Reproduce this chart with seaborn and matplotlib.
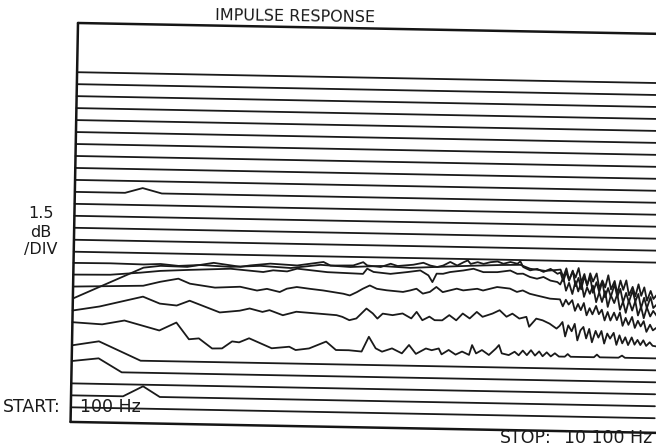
import matplotlib
matplotlib.use("Agg")
import matplotlib.pyplot as plt
from matplotlib.transforms import Affine2D
import numpy as np
import pandas as pd
import seaborn as sns

sns.set_style("white")
plt.rcParams['font.family'] = ['DejaVu Sans']

# ---------------- text ----------------
title = "IMPULSE RESPONSE"
scale_label = ["1.5", "dB", "/DIV"]
start_label, start_value = "START:", "100 Hz"
stop_label, stop_value = "STOP:", "10 100 Hz"

# ---------------- axis ----------------
f_start, f_stop = 100, 10100          # Hz
db_top, db_bottom = 0.0, -15.0        # 1.5 dB/div, 10 divisions
trace_spacing_db = 0.45               # waterfall offset between slices
first_trace_db = -1.85

# ---------------- data (response of each time slice, dB above its floor) ----------------
flat_slots = [0, 1, 2, 3, 4, 5, 6, 7, 8, 9, 11, 12, 13, 14, 15, 26, 28]

s10_freq = [100, 960, 1260, 1590, 10100]
s10_db = [0.00, 0.00, 0.19, 0.00, 0.00]

# low / mid band of the slices that carry signal
s18_freq = [100, 730, 1300, 1590, 1900, 2270, 2790, 3300, 3820, 4330, 4840, 5360, 5870, 6380,
            6900, 7410, 7750, 7920, 8180]
s18_db = [0.93, 0.94, 0.92, 0.95, 0.89, 0.94, 0.89, 0.95, 0.89, 1.03, 0.97, 1.03, 0.98, 1.04,
          1.10, 1.15, 1.17, 1.03, 0.96]

s19_freq = [100, 730, 1250, 1590, 2100, 2790, 3350, 3520, 3760, 3930, 4450, 5060, 5130, 5240,
            5530, 5820, 6040, 6180, 6250, 6320, 6430, 6550, 6780, 6950, 7120, 7360, 7580, 7700,
            7800, 7920, 8040, 8150, 8270, 8390]
s19_db = [0.94, 0.96, 1.06, 1.14, 1.20, 1.27, 1.17, 1.24, 1.21, 1.32, 1.21, 1.17, 1.37, 1.25,
          1.19, 1.27, 1.34, 1.16, 0.91, 1.23, 1.23, 1.30, 1.37, 1.44, 1.32, 1.33, 1.40, 1.28,
          1.29, 1.17, 1.11, 1.18, 1.05, 1.00]

s20_freq = [100, 1300, 1590, 1900, 2100, 2530, 2960, 3250, 3420, 3640, 3760, 3930, 4160, 4380,
            4730, 4840, 4960, 5060, 5180, 5300, 5470, 5750, 5870, 5980, 6090, 6210, 6320, 6430,
            6670, 6780, 7020, 7120, 7360, 7580, 7700, 7800, 7920, 8040, 8270]
s20_db = [0.94, 1.02, 1.18, 1.31, 1.13, 1.00, 1.05, 0.92, 0.99, 0.88, 1.01, 1.08, 1.02, 0.97,
          0.86, 0.80, 0.93, 1.06, 1.19, 1.07, 1.02, 0.97, 1.03, 1.10, 0.92, 0.99, 1.18, 0.99,
          1.13, 1.07, 1.14, 1.08, 1.22, 1.17, 1.05, 1.11, 0.99, 0.93, 0.82]

s21_freq = [100, 1300, 1590, 2050, 2500, 2960, 3130, 3470, 3930, 4380, 4500, 4890, 5060, 5130,
            5360, 5530, 5650, 5920, 6090, 6210, 6330, 6430, 6550, 6670, 6780, 6850, 6900, 7020,
            7120, 7240, 7360, 7460, 7580, 7700, 7750, 7800, 7920, 8040, 8150, 8270, 8390]
s21_db = [0.94, 2.15, 2.23, 2.21, 2.38, 2.25, 2.31, 2.39, 2.34, 2.49, 2.36, 2.38, 2.51, 2.39,
          2.34, 2.47, 2.39, 2.45, 2.53, 2.43, 2.38, 2.44, 2.58, 2.45, 2.58, 2.65, 2.52, 2.59,
          2.53, 2.60, 2.63, 2.55, 2.62, 2.56, 2.65, 2.44, 2.32, 2.38, 2.27, 2.39, 2.21]

s22_freq = [100, 560, 1300, 1590, 1880, 2100, 2620, 2960, 3130, 3350, 3470, 3700, 3930, 4620,
            4720, 4840, 4960, 5130, 5240, 5320, 5410, 5580, 5750, 5900, 5990, 6090, 6210, 6300,
            6430, 6550, 6670, 6780, 6900, 7020, 7120, 7290, 7410, 7530, 7630, 7750, 7870, 7920,
            8040, 8150, 8270, 8390]
s22_db = [0.94, 1.11, 1.51, 1.26, 1.20, 1.39, 0.97, 1.05, 1.14, 1.02, 1.09, 0.91, 1.05, 0.95,
          0.89, 0.77, 0.84, 1.22, 1.04, 0.85, 1.04, 0.99, 1.06, 0.88, 1.13, 0.82, 0.96, 0.83,
          0.83, 1.03, 0.84, 1.10, 0.92, 1.17, 0.99, 1.12, 1.25, 1.01, 1.13, 0.95, 1.02, 0.65,
          0.96, 0.90, 0.78, 0.60]

# high band (dense, ragged part at the right-hand end)
hf_freq = [8440, 8490, 8540, 8590, 8650, 8700, 8750, 8800, 8850, 8900, 8950, 9000, 9060, 9110,
           9160, 9210, 9260, 9310, 9370, 9420, 9470, 9520, 9570, 9620, 9680, 9730, 9780, 9830,
           9880, 9930, 9990, 10040, 10100]
s18_hf = [1.02, 0.74, 1.07, 0.64, 0.96, 0.73, 1.09, 0.56, 0.87, 0.43, 0.90, 0.59, 0.90, 0.34,
          0.64, 0.38, 0.84, 0.31, 0.63, 0.16, 0.65, 0.30, 0.66, 0.10, 0.42, 0.07, 0.52, 0.09,
          0.41, -0.09, 0.28, -0.02, 0.15]
s19_hf = [0.91, 1.17, 0.68, 0.98, 0.56, 1.04, 0.66, 1.02, 0.46, 0.82, 0.58, 0.89, 0.27, 0.64,
          0.28, 0.69, 0.10, 0.54, 0.25, 0.59, 0.00, 0.31, -0.11, 0.36, -0.02, 0.34, -0.20, 0.13,
          -0.30, 0.11, -0.23, -0.02, -0.20]
s20_hf = [0.80, 0.54, 0.79, 0.61, 0.78, 0.38, 0.64, 0.41, 0.68, 0.22, 0.49, 0.26, 0.58, 0.27,
          0.44, 0.04, 0.36, 0.04, 0.34, 0.06, 0.35, -0.15, 0.15, -0.11, 0.19, -0.22, 0.05, -0.16,
          0.04, -0.36, -0.09, -0.30, -0.20]
s21_hf = [2.26, 1.93, 2.29, 1.96, 2.34, 1.76, 2.07, 1.64, 2.13, 1.82, 2.12, 1.52, 1.92, 1.55,
          1.95, 1.36, 1.71, 1.38, 1.86, 1.38, 1.69, 1.18, 1.54, 1.19, 1.63, 1.22, 1.51, 0.97,
          1.37, 0.98, 1.40, 0.99, 1.13]
s22_hf = [0.70, 0.85, 0.31, 0.73, 0.51, 0.79, 0.17, 0.55, 0.68, 0.25, 0.61, 0.11, 0.54, 0.29,
          0.54, 0.07, 0.45, 0.26, 0.48, 0.03, 0.39, 0.09, 0.32, 0.03, 0.32, 0.05, 0.23, 0.04,
          0.22, 0.01, 0.15, 0.02, 0.00]

s23_freq = [100, 610, 990, 1590, 1880, 2100, 2270, 2500, 2670, 2840, 2960, 3130, 3520, 3820,
            3930, 4160, 4450, 4620, 4840, 5060, 5180, 5300, 5410, 5580, 5750, 5870, 5990, 6160,
            6260, 6380, 6430, 6550, 6670, 6780, 6900, 6950, 7020, 7120, 7240, 7360, 7410, 7460,
            7580, 7680, 7750, 7820, 7890, 7960, 8030, 8100, 8160, 8230, 8300, 8370, 8440, 8540,
            8590, 8640, 9040, 9090, 9140, 9460, 9520, 9570, 10100]
s23_db = [0.95, 0.89, 1.05, 0.70, 1.01, 0.39, 0.43, 0.06, 0.07, 0.34, 0.31, 0.47, 0.11, 0.18,
          0.06, 0.13, 0.40, 0.09, 0.09, 0.05, 0.61, 0.18, 0.06, 0.19, 0.01, 0.33, 0.00, 0.21,
          0.15, 0.22, 0.00, 0.17, 0.00, 0.12, 0.00, 0.37, 0.06, 0.19, 0.01, 0.26, 0.39, 0.08,
          0.02, 0.15, 0.02, 0.20, 0.03, 0.22, 0.02, 0.18, 0.00, 0.15, 0.00, 0.12, 0.00, 0.00,
          0.10, 0.00, 0.00, 0.10, 0.00, 0.00, 0.08, 0.00, 0.00]

s24_freq = [100, 560, 1280, 10100]
s24_db = [0.53, 0.70, 0.00, 0.00]

s25_freq = [100, 560, 960, 10100]
s25_db = [0.39, 0.51, 0.00, 0.00]

s27_freq = [100, 990, 1330, 1620, 10100]
s27_db = [0.00, 0.00, 0.39, 0.00, 0.00]

content = [(10, s10_freq, s10_db),
           (18, s18_freq + hf_freq, s18_db + s18_hf),
           (19, s19_freq + hf_freq, s19_db + s19_hf),
           (20, s20_freq + hf_freq, s20_db + s20_hf),
           (21, s21_freq + hf_freq, s21_db + s21_hf),
           (22, s22_freq + hf_freq, s22_db + s22_hf),
           (23, s23_freq, s23_db), (24, s24_freq, s24_db), (25, s25_freq, s25_db),
           (27, s27_freq, s27_db)]

rows = []
for s in flat_slots:
    base = first_trace_db - s * trace_spacing_db
    for f in (f_start, f_stop):
        rows.append((s, f, base))
for s, fr, db in content:
    base = first_trace_db - s * trace_spacing_db
    for f, v in zip(fr, db):
        rows.append((s, f, base + v))
df = pd.DataFrame(rows, columns=["trace", "freq", "level"])

# ---------------- figure ----------------
W, H = 656, 448
fig = plt.figure(figsize=(W / 100, H / 100), dpi=100)
fig.patch.set_facecolor("white")
ax = fig.add_axes([78 / W, 26 / H, 584 / W, 399 / H])

sns.lineplot(data=df, x="freq", y="level", units="trace", estimator=None, sort=False,
             color="#1a1a1a", linewidth=1.3, ax=ax, legend=False)

# frame (top, left, bottom)
ax.plot([f_start, f_stop * 1.02], [db_top, db_top], color="#151515", lw=1.8)
ax.plot([f_start, f_start], [db_top, db_bottom], color="#151515", lw=1.8)
ax.plot([f_start, f_stop * 1.02], [db_bottom, db_bottom], color="#151515", lw=1.8)

ax.set_xlim(f_start, f_stop)
ax.set_ylim(db_bottom, db_top)
ax.axis("off")

# the plot sheet is slightly rotated
rot = Affine2D().rotate_deg_around(78, H - 23, -1.07)
for ln in ax.lines:
    ln.set_transform(ax.transData + rot)
    ln.set_clip_on(False)

tcol = "#1a1a1a"
fig.text(295 / W, 1 - 17 / H, title, ha="center", va="center", fontsize=11.5, color=tcol, rotation=-0.8)
for lab, y in zip(scale_label, [213, 232, 249]):
    fig.text(41 / W, 1 - y / H, lab, ha="center", va="center", fontsize=11.5, color=tcol)
fig.text(3 / W, 1 - 407 / H, start_label, ha="left", va="center", fontsize=12.5, color=tcol)
fig.text(80 / W, 1 - 407 / H, start_value, ha="left", va="center", fontsize=12.5, color=tcol)
fig.text(500 / W, 1 - 438 / H, stop_label, ha="left", va="center", fontsize=12.5, color=tcol)
fig.text(652 / W, 1 - 438 / H, stop_value, ha="right", va="center", fontsize=12.5, color=tcol)

fig.savefig("out.png", dpi=100, facecolor="white")
